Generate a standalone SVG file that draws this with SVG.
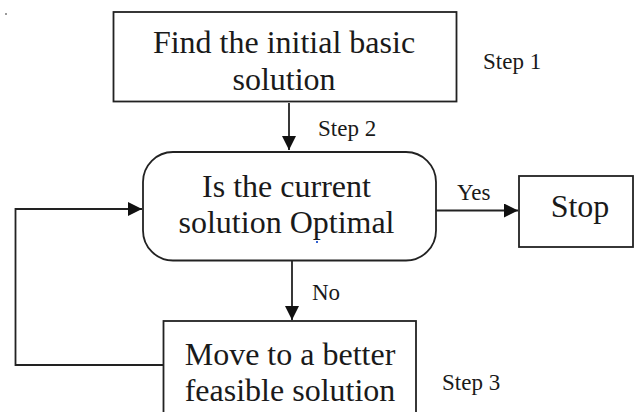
<svg xmlns="http://www.w3.org/2000/svg" width="634" height="412" viewBox="0 0 634 412">
  <style>
    .box { fill: #ffffff; stroke: #222222; stroke-width: 1.8; }
    .main { font-family: 'Liberation Serif', 'DejaVu Serif', serif; font-size: 32px; fill: #1a1a1a; text-anchor: middle; }
    .lbl { font-family: 'Liberation Serif', 'DejaVu Serif', serif; font-size: 23px; fill: #1a1a1a; }
    .wire { fill: none; stroke: #222222; stroke-width: 1.8; }
  </style>
  <defs>
    <marker id="head" viewBox="0 0 10 10" refX="10" refY="5" markerWidth="14" markerHeight="14" markerUnits="userSpaceOnUse" orient="auto">
      <path d="M0,0 L10,5 L0,10 Z" fill="#111111"/>
    </marker>
  </defs>
  <rect width="634" height="412" fill="#ffffff"/>
  <rect x="5" y="13" width="2" height="2" fill="#9a9a9a"/>

  <g id="connectors">
    <line class="wire" x1="289" y1="103" x2="289" y2="150" marker-end="url(#head)"/>
    <line class="wire" x1="436" y1="210.5" x2="518" y2="210.5" marker-end="url(#head)"/>
    <line class="wire" x1="292" y1="261" x2="292" y2="320" marker-end="url(#head)"/>
    <polyline class="wire" points="164,365 15.5,365 15.5,209 142,209" marker-end="url(#head)"/>
  </g>

  <g id="find-initial">
    <rect class="box" x="113.5" y="12" width="343" height="89.5"/>
    <text class="main" x="284" y="53">Find the initial basic</text>
    <text class="main" x="284" y="90">solution</text>
  </g>

  <g id="is-optimal">
    <rect class="box" x="143" y="152" width="293" height="108.5" rx="30" ry="30"/>
    <text class="main" x="286.5" y="197">Is the current</text>
    <text class="main" x="286.5" y="233">solution Optimal</text>
    <rect x="316" y="241" width="2" height="2" fill="#3060d0"/>
  </g>

  <g id="stop">
    <rect class="box" x="519" y="176" width="114" height="71"/>
    <text class="main" x="580" y="217">Stop</text>
  </g>

  <g id="move-better">
    <rect class="box" x="163.5" y="321" width="252.5" height="100"/>
    <text class="main" x="290" y="365">Move to a better</text>
    <text class="main" x="290" y="401">feasible solution</text>
  </g>

  <g id="labels">
    <text class="lbl" x="483" y="69">Step 1</text>
    <text class="lbl" x="318" y="136">Step 2</text>
    <text class="lbl" x="442" y="390">Step 3</text>
    <text class="lbl" x="457" y="200">Yes</text>
    <text class="lbl" x="312" y="300">No</text>
  </g>
</svg>
